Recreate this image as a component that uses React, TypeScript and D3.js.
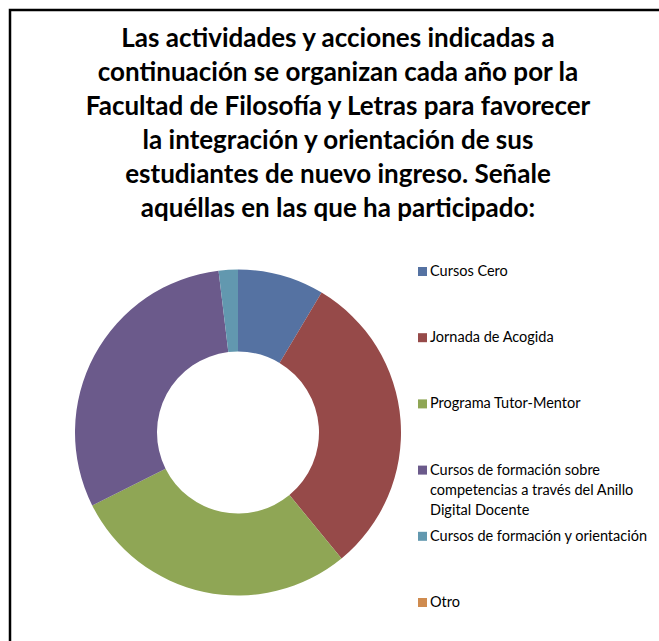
import { useMemo } from 'react';
import * as d3 from 'd3';

const W = 659;
const H = 641;

const TITLE_LINES = [
  'Las actividades y acciones indicadas a',
  'continuación se organizan cada año por la',
  'Facultad de Filosofía y Letras para favorecer',
  'la integración y orientación de sus',
  'estudiantes de nuevo ingreso. Señale',
  'aquéllas en las que ha participado:',
];

const CATEGORIES = [
  ['Cursos Cero'],
  ['Jornada de Acogida'],
  ['Programa Tutor-Mentor'],
  ['Cursos de formación sobre', 'competencias a través del Anillo', 'Digital Docente'],
  ['Cursos de formación y orientación'],
  ['Otro'],
];
const VALUES = [9, 32, 30, 32, 2, 0];
const COLORS = ['#5572a2', '#964a49', '#8fa655', '#6b5a8b', '#6298af', '#cf8b4f'];

const CX = 238;
const CY = 432.5;
const R_OUT = 163;
const R_IN = 81;

const FONT = 'Lato, "Open Sans", sans-serif';

export default function App() {
  const arcs = useMemo(() => {
    const pie = d3.pie<number>().sort(null).value((d) => d)(VALUES);
    const arc = d3.arc<d3.PieArcDatum<number>>().innerRadius(R_IN).outerRadius(R_OUT);
    return pie.map((p, i) => ({ d: arc(p) ?? '', color: COLORS[i] }));
  }, []);

  // legend rows spread evenly down the right side
  const legendY = d3.scaleLinear().domain([0, CATEGORIES.length - 1]).range([276, 607]);

  return (
    <svg
      width={W}
      height={H}
      style={{ position: 'absolute', left: 0, top: 0, background: '#fff' }}
    >
      <rect x={10} y={10} width={W + 10} height={H + 10} fill="#fff" stroke="#000" strokeWidth={2.5} />

      <g fontFamily={FONT} fontWeight={700} fontSize={26} fill="#000" textAnchor="middle">
        {TITLE_LINES.map((t, i) => (
          <text key={i} x={338} y={47 + i * 34}>
            {t}
          </text>
        ))}
      </g>

      <g transform={`translate(${CX},${CY})`}>
        {arcs.map((a, i) => (
          <path key={i} d={a.d} fill={a.color} />
        ))}
      </g>

      <g fontFamily={FONT} fontSize={14.5} fill="#000">
        {CATEGORIES.map((lines, i) => {
          const y = legendY(i);
          return (
            <g key={i}>
              <rect x={418} y={y - 9} width={9} height={9} fill={COLORS[i]} />
              {lines.map((l, j) => (
                <text key={j} x={430} y={y + j * 20}>
                  {l}
                </text>
              ))}
            </g>
          );
        })}
      </g>
    </svg>
  );
}
